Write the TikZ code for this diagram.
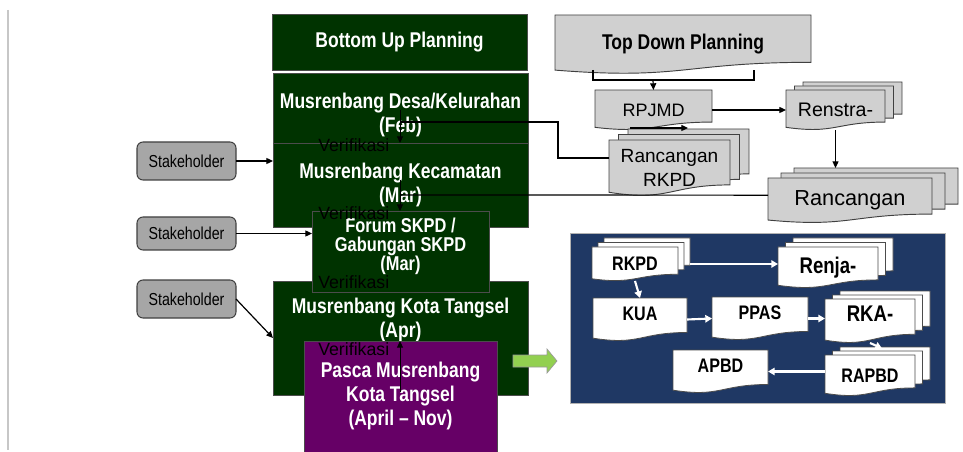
\documentclass[tikz,border=0pt]{standalone}
\usepackage{fontspec}
\setmainfont{Liberation Sans}
\newfontfamily\narrowfam[FakeStretch=0.82]{Liberation Sans}
\usetikzlibrary{arrows.meta,calc}
\definecolor{dgreen}{HTML}{003300}
\definecolor{purp}{HTML}{660066}
\definecolor{sgray}{HTML}{A6A6A6}
\definecolor{dgray}{HTML}{D0D0D0}
\definecolor{navy}{HTML}{1F3864}
\definecolor{lgreen}{HTML}{92D050}
\newcommand\tfont{\narrowfam\bfseries\fontsize{16pt}{18pt}\selectfont}
\newcommand\tfontF{\narrowfam\bfseries\fontsize{15pt}{14.3pt}\selectfont\lineskiplimit=-30pt\lineskip=0pt}
\newcommand\sfontx{\narrowfam\fontsize{13pt}{15pt}\selectfont}
\newcommand\vfont{\fontsize{13.3pt}{15pt}\selectfont}
\newcommand\bfontx{\narrowfam\bfseries\fontsize{14.7pt}{17pt}\selectfont}
\newcommand\bfontl{\narrowfam\bfseries\fontsize{17pt}{19pt}\selectfont}
\newcommand\lift[1]{\rule[-#1]{0pt}{#1}}
\newcommand\docshape[5]{\draw[#5] (#1,#2) -- ({#1+#3},#2) -- ({#1+#3},{#2+0.802*#4}) .. controls ({#1+0.5*#3},{#2+0.802*#4}) and ({#1+0.5*#3},{#2+1.107*#4}) .. (#1,{#2+0.934*#4}) -- cycle;}
\newcommand\docnode[8]{\docshape{#2}{#3}{#4}{#5}{#6}\node[sz={#4}{#5},anchor=north west,align=center,#7] (#1) at (#2,#3) {#8};}
\begin{document}
\begin{tikzpicture}[x=0.75pt,y=-0.75pt,
  sz/.style 2 args={minimum width={#1*0.75pt},minimum height={#2*0.75pt},inner sep=0pt,outer sep=0pt},
  gbox/.style={fill=dgreen,draw=black!70,line width=0.6pt,text=white,font=\tfont,align=center},
  stake/.style={fill=sgray,draw=black!75,line width=0.8pt,rounded corners=4.5pt,font=\sfontx},
  gdoc/.style={fill=dgray,draw=black!75,line width=0.7pt},
  wdoc/.style={fill=white,draw=black!70,line width=0.6pt},
  arr/.style={-{Triangle[length=5pt,width=4.5pt]},line width=0.9pt},
  varr/.style={-{Triangle[length=5pt,width=4.5pt]},line width=0.7pt},
  warr/.style={white,line width=1.6pt,-{Triangle[length=5pt,width=5.5pt]}},
  verif/.style={font=\vfont,inner sep=0pt,anchor=west}]
\useasboundingbox (0,0) rectangle (963,452);
\draw[black!22,line width=0.8pt] (8,10) -- (8,450);

% ---- bottom up column
\node[gbox,sz={255}{56},anchor=north west] (bu) at (272,14) {Bottom Up Planning};
\node[gbox,sz={255}{70},anchor=north west] (desa) at (273,73) {\rule{0pt}{22pt}Musrenbang Desa/Kelurahan\\(Feb)};
\node[gbox,sz={255}{84},anchor=north west] (kec) at (273,143) {Musrenbang Kecamatan\\(Mar)};
\node[gbox,sz={255}{114},anchor=north west] (kota) at (273,281) {Musrenbang Kota Tangsel\\(Apr)\lift{31pt}};
\node[gbox,sz={177}{81},anchor=north west,font=\tfontF] (forum) at (312,211) {Forum SKPD /\\Gabungan SKPD\\(Mar)\lift{11pt}};
\node[gbox,fill=purp,sz={193}{116},anchor=north west] (pasca) at (304,341) {Pasca Musrenbang\\Kota Tangsel\\(April – Nov)\lift{8pt}};

% ---- stakeholders
\node[stake,sz={99}{38},anchor=north west] (s1) at (137,142) {Stakeholder};
\node[stake,sz={99}{33},anchor=north west] (s2) at (137,217) {Stakeholder};
\node[stake,sz={99}{38},anchor=north west] (s3) at (137,280) {Stakeholder};
\draw[arr] (s1.east) -- (s1.east -| kec.west);
\draw[arr] (s2.east) -- (s2.east -| forum.west);
\draw[arr] (s3.east) -- (kota.west);

% ---- top down
\docnode{td}{555}{15}{256}{59}{gdoc}{font=\tfont}{Top Down Planning}
\docnode{rpjmd}{595}{90}{117}{40}{gdoc}{font=\fontsize{13.5pt}{16pt}\selectfont}{RPJMD}
\docshape{803}{82}{99}{40}{gdoc}
\docshape{794.5}{86}{99}{40}{gdoc}
\docnode{renstra}{786}{90}{99}{40}{gdoc}{font=\fontsize{14.7pt}{17pt}\selectfont}{Renstra-}
\docshape{628}{129}{121}{56}{gdoc}
\docshape{618.5}{134.5}{121}{56}{gdoc}
\docnode{rrkpd}{609}{140}{121}{56}{gdoc}{font=\fontsize{14.3pt}{18.5pt}\selectfont}{Rancangan\\RKPD}
\docshape{794}{168}{164}{45}{gdoc}
\docshape{781}{173}{164}{45}{gdoc}
\docnode{rc2}{768}{178}{164}{45}{gdoc}{font=\fontsize{16.3pt}{18pt}\selectfont}{Rancangan}

\coordinate (tdL) at (593,70);
\coordinate (tdR) at (754,70);
\coordinate (tdM) at (653,80);
\draw[line width=0.9pt] (tdL) -- (593,80) -- (754,80) -- (tdR);
\draw[arr] (tdM) -- (rpjmd.north);
\draw[arr] (rpjmd.east) -- (renstra.west);
\coordinate (a1) at (630,128);
\coordinate (a2) at (688,128);
\draw[arr] (a1) -- (a2);
\coordinate (rc2b) at ([yshift=7.5pt]rc2.north);
\draw[arr] (renstra.south) -- (renstra.south |- rc2b);

% ---- links into the bottom-up column
\coordinate (j1) at (558,122);
\coordinate (j2) at (400,122);
\coordinate (j3) at (400,195);
\draw[line width=0.9pt] ([yshift=7.5pt]rrkpd.west) -| (j1) -- (j2);
\draw[line width=0.9pt] ([yshift=4pt]rc2.west) -- (j3);
\coordinate (v1) at (400,110);
\coordinate (v2) at (400,180);
\coordinate (v3) at (400,392);
\draw[varr] (v1) -- (v1 |- kec.north);
\draw[varr] (v2) -- (v2 |- forum.north);
\draw[varr] (v3) -- (v3 |- pasca.north);

\node[verif] (ver1) at (318,145) {Verifikasi};
\node[verif] (ver2) at (318,213) {Verifikasi};
\node[verif] (ver3) at (318,282) {Verifikasi};
\node[verif] (ver4) at (318,349) {Verifikasi};

% ---- green arrow
\draw[fill=lgreen,draw=black!40,line width=0.5pt] (513,355) -- (547,355) -- (547,349) -- (557,361) -- (547,373) -- (547,367) -- (513,367) -- cycle;

% ---- budget panel
\node[fill=navy,draw=black!30,line width=0.6pt,sz={375}{170},anchor=north west] (panel) at (570,233) {};
\docshape{604}{238}{86}{34}{wdoc}
\docshape{598}{242.5}{86}{34}{wdoc}
\docnode{rkpd}{592}{247}{86}{34}{wdoc}{font=\bfontx}{RKPD}
\docshape{793}{238}{100}{41}{wdoc}
\docshape{785.5}{242.5}{100}{41}{wdoc}
\docnode{renja}{778}{247}{100}{41}{wdoc}{font=\bfontl}{Renja-}
\docnode{kua}{593}{298}{94}{43}{wdoc}{font=\bfontx}{KUA\lift{9pt}}
\docnode{ppas}{712}{297}{96}{43}{wdoc}{font=\bfontx}{PPAS\lift{9pt}}
\docshape{840}{291}{90}{44}{wdoc}
\docshape{832.5}{295}{90}{44}{wdoc}
\docnode{rka}{825}{299}{90}{44}{wdoc}{font=\bfontl}{RKA-\lift{11pt}}
\docshape{840}{347}{90}{41}{wdoc}
\docshape{832.5}{351}{90}{41}{wdoc}
\docnode{rapbd}{825}{355}{90}{41}{wdoc}{font=\bfontx}{RAPBD}
\docnode{apbd}{673}{350}{95}{43}{wdoc}{font=\bfontx}{APBD\lift{8pt}}

\draw[warr] ([xshift=9pt]rkpd.east) -- (rkpd.east -| renja.west);
\draw[warr] (rkpd.south) -- (kua.north);
\draw[warr] (kua.east) -- (ppas.west);
\draw[warr] (ppas.east) -- (ppas.east -| rka.west);
\draw[warr] (rka.south) -- ([xshift=9pt,yshift=5pt]rapbd.north);
\draw[warr] (rapbd.west |- apbd.east) -- (apbd.east);
\end{tikzpicture}
\end{document}
